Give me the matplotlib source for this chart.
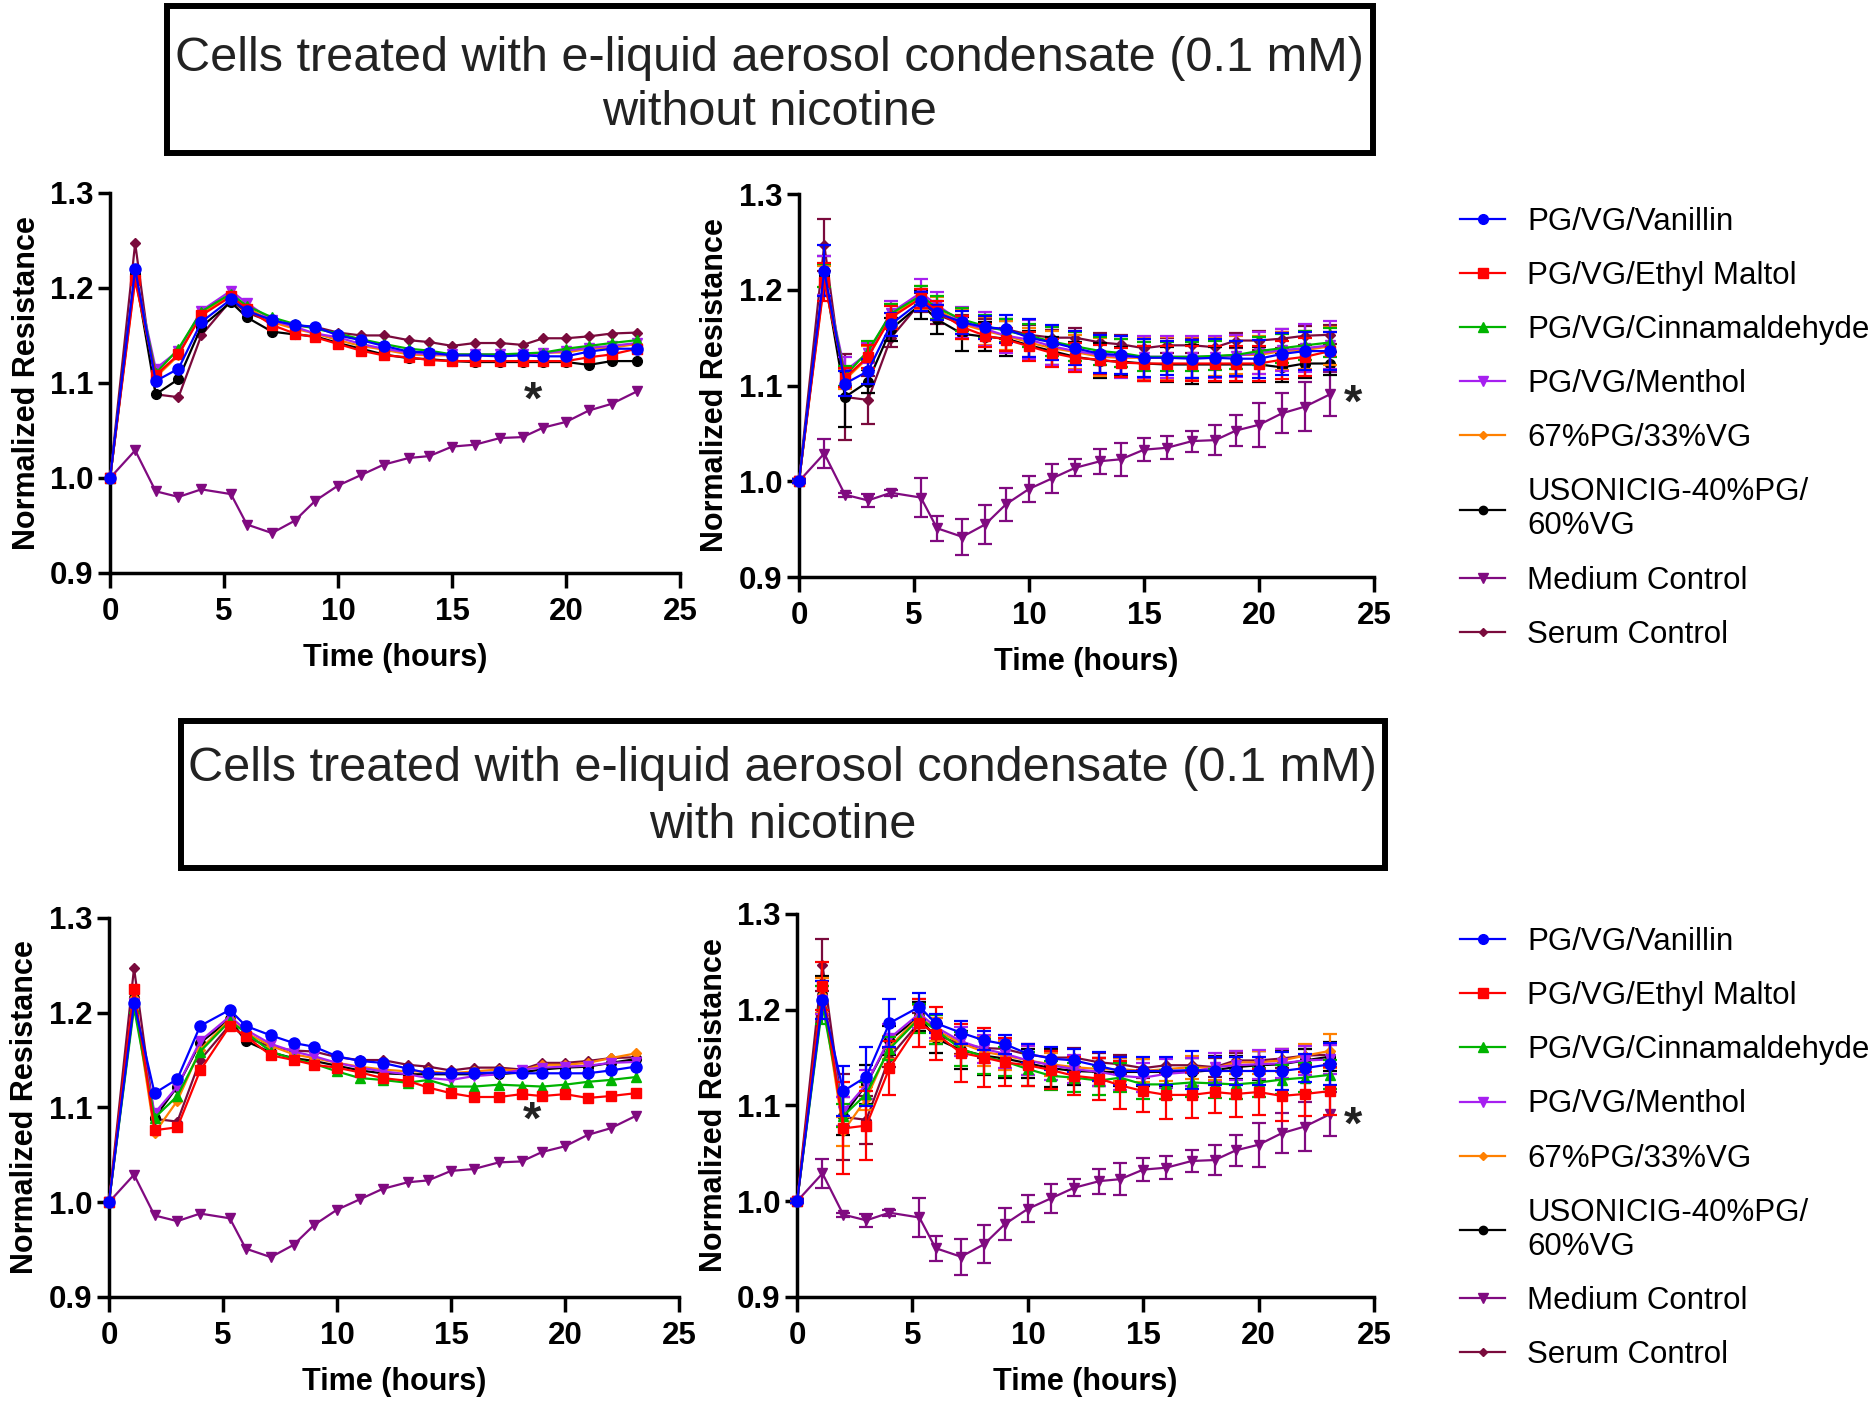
import numpy as np
import matplotlib
matplotlib.use("Agg")
import matplotlib.pyplot as plt
from matplotlib.patches import Rectangle
from matplotlib.lines import Line2D


# ======================
# 0) Data
# ======================

hours = [0, 1.1, 2, 3, 4, 5.3, 6, 7.1, 8.1, 9, 10, 11, 12, 13.1, 14, 15, 16,
         17.1, 18.1, 19, 20, 21, 22, 23.1]

labels = ["PG/VG/Vanillin", "PG/VG/Ethyl Maltol", "PG/VG/Cinnamaldehyde",
          "PG/VG/Menthol", "67%PG/33%VG", "USONICIG-40%PG/\n60%VG",
          "Medium Control", "Serum Control"]

# without nicotine (means)
van_no = [1.000, 1.220, 1.102, 1.115, 1.164, 1.188, 1.176, 1.166, 1.161, 1.159, 1.150, 1.145,
          1.139, 1.133, 1.132, 1.129, 1.129, 1.128, 1.129, 1.128, 1.128, 1.133, 1.136, 1.136]
mal_no = [1.000, 1.208, 1.108, 1.130, 1.171, 1.191, 1.178, 1.161, 1.152, 1.148, 1.141, 1.134,
          1.129, 1.127, 1.124, 1.123, 1.123, 1.123, 1.123, 1.123, 1.123, 1.127, 1.130, 1.136]
cin_no = [1.000, 1.215, 1.110, 1.136, 1.175, 1.194, 1.181, 1.169, 1.162, 1.157, 1.152, 1.146,
          1.141, 1.136, 1.134, 1.130, 1.130, 1.130, 1.131, 1.132, 1.136, 1.139, 1.142, 1.145]
men_no = [1.000, 1.215, 1.115, 1.134, 1.176, 1.197, 1.184, 1.166, 1.159, 1.152, 1.148, 1.141,
          1.136, 1.132, 1.130, 1.130, 1.130, 1.130, 1.130, 1.131, 1.134, 1.137, 1.139, 1.142]
pg67_no = [1.000, 1.210, 1.106, 1.129, 1.173, 1.192, 1.180, 1.164, 1.157, 1.152, 1.145, 1.139,
           1.135, 1.130, 1.129, 1.129, 1.129, 1.129, 1.130, 1.132, 1.132, 1.136, 1.137, 1.141]
uso_no = [1.000, 1.215, 1.088, 1.104, 1.159, 1.185, 1.169, 1.154, 1.151, 1.149, 1.142, 1.136,
          1.130, 1.126, 1.125, 1.123, 1.122, 1.122, 1.122, 1.122, 1.122, 1.119, 1.123, 1.123]

# with nicotine (means)
van_nic = [1.000, 1.210, 1.115, 1.130, 1.186, 1.203, 1.186, 1.176, 1.168, 1.164, 1.154, 1.149,
           1.147, 1.141, 1.136, 1.136, 1.136, 1.137, 1.136, 1.136, 1.136, 1.136, 1.139, 1.143]
mal_nic = [1.000, 1.225, 1.076, 1.079, 1.139, 1.186, 1.175, 1.155, 1.150, 1.145, 1.142, 1.137,
           1.131, 1.128, 1.121, 1.115, 1.111, 1.111, 1.114, 1.112, 1.114, 1.110, 1.112, 1.115]
cin_nic = [1.000, 1.205, 1.089, 1.112, 1.159, 1.191, 1.179, 1.159, 1.151, 1.146, 1.138, 1.131,
           1.129, 1.126, 1.129, 1.122, 1.122, 1.124, 1.123, 1.122, 1.124, 1.127, 1.129, 1.132]
men_nic = [1.000, 1.210, 1.094, 1.122, 1.170, 1.196, 1.182, 1.167, 1.159, 1.154, 1.147, 1.142,
           1.138, 1.135, 1.131, 1.129, 1.133, 1.135, 1.140, 1.142, 1.143, 1.144, 1.147, 1.148]
pg67_nic = [1.000, 1.215, 1.073, 1.107, 1.161, 1.193, 1.179, 1.165, 1.156, 1.152, 1.147, 1.143,
            1.140, 1.138, 1.138, 1.136, 1.138, 1.140, 1.139, 1.145, 1.145, 1.147, 1.152, 1.157]
uso_nic = [1.000, 1.215, 1.089, 1.122, 1.168, 1.193, 1.170, 1.158, 1.152, 1.149, 1.144, 1.139,
           1.136, 1.135, 1.135, 1.135, 1.135, 1.135, 1.137, 1.140, 1.142, 1.143, 1.147, 1.151]

# controls (same in both experiments)
medium = [1.000, 1.029, 0.986, 0.980, 0.988, 0.983, 0.951, 0.942, 0.955, 0.976, 0.992, 1.003,
          1.014, 1.021, 1.023, 1.033, 1.035, 1.042, 1.043, 1.053, 1.059, 1.071, 1.078, 1.091]
serum = [1.000, 1.247, 1.088, 1.085, 1.150, 1.187, 1.174, 1.164, 1.160, 1.159, 1.153, 1.150,
         1.150, 1.145, 1.143, 1.139, 1.142, 1.142, 1.140, 1.147, 1.147, 1.149, 1.152, 1.153]

# error bars, without nicotine
van_no_err = [0.002, 0.027, 0.013, 0.013, 0.012, 0.010, 0.008, 0.012, 0.012, 0.015, 0.020, 0.018,
              0.018, 0.020, 0.020, 0.020, 0.018, 0.020, 0.020, 0.018, 0.020, 0.022, 0.020, 0.020]
mal_no_err = [0.002, 0.020, 0.010, 0.012, 0.012, 0.010, 0.010, 0.012, 0.012, 0.012, 0.015, 0.015,
              0.015, 0.015, 0.015, 0.018, 0.018, 0.018, 0.018, 0.018, 0.018, 0.020, 0.020, 0.020]
cin_no_err = [0.002, 0.012, 0.010, 0.010, 0.010, 0.010, 0.012, 0.012, 0.012, 0.012, 0.012, 0.015,
              0.015, 0.015, 0.015, 0.015, 0.015, 0.015, 0.015, 0.015, 0.015, 0.015, 0.015, 0.015]
men_no_err = [0.002, 0.020, 0.015, 0.010, 0.012, 0.014, 0.014, 0.016, 0.018, 0.018, 0.020, 0.020,
              0.020, 0.020, 0.022, 0.022, 0.022, 0.022, 0.022, 0.022, 0.022, 0.022, 0.025, 0.025]
pg67_no_err = [0.002, 0.015, 0.010, 0.012, 0.012, 0.012, 0.012, 0.015, 0.015, 0.015, 0.015, 0.018,
               0.018, 0.020, 0.020, 0.022, 0.022, 0.022, 0.020, 0.020, 0.020, 0.020, 0.020, 0.020]
uso_no_err = [0.002, 0.020, 0.031, 0.012, 0.012, 0.015, 0.015, 0.018, 0.015, 0.018, 0.015, 0.015,
              0.015, 0.018, 0.015, 0.018, 0.018, 0.020, 0.018, 0.018, 0.018, 0.015, 0.015, 0.012]

# error bars, with nicotine
van_nic_err = [0.002, 0.020, 0.026, 0.031, 0.025, 0.014, 0.010, 0.012, 0.010, 0.010, 0.010, 0.012,
               0.012, 0.015, 0.015, 0.015, 0.015, 0.020, 0.015, 0.015, 0.015, 0.020, 0.015, 0.022]
mal_nic_err = [0.002, 0.025, 0.048, 0.036, 0.028, 0.025, 0.028, 0.030, 0.031, 0.025, 0.022, 0.020,
               0.020, 0.022, 0.025, 0.022, 0.025, 0.024, 0.022, 0.024, 0.024, 0.026, 0.023, 0.025]
cin_nic_err = [0.002, 0.020, 0.012, 0.012, 0.012, 0.015, 0.015, 0.018, 0.018, 0.015, 0.018, 0.015,
               0.015, 0.015, 0.015, 0.015, 0.015, 0.015, 0.015, 0.015, 0.015, 0.015, 0.015, 0.015]
men_nic_err = [0.002, 0.015, 0.015, 0.015, 0.015, 0.015, 0.012, 0.015, 0.015, 0.015, 0.015, 0.015,
               0.015, 0.015, 0.015, 0.015, 0.015, 0.015, 0.015, 0.015, 0.015, 0.015, 0.015, 0.015]
pg67_nic_err = [0.002, 0.018, 0.015, 0.012, 0.012, 0.012, 0.012, 0.012, 0.015, 0.015, 0.015, 0.012,
                0.012, 0.012, 0.012, 0.012, 0.012, 0.012, 0.012, 0.012, 0.012, 0.012, 0.012, 0.018]
uso_nic_err = [0.002, 0.020, 0.020, 0.020, 0.015, 0.015, 0.015, 0.020, 0.020, 0.020, 0.015, 0.020,
               0.015, 0.015, 0.015, 0.015, 0.015, 0.015, 0.015, 0.012, 0.015, 0.015, 0.012, 0.015]

medium_err = [0.001, 0.015, 0.002, 0.007, 0.003, 0.020, 0.013, 0.019, 0.020, 0.017, 0.014, 0.015,
              0.009, 0.013, 0.017, 0.012, 0.012, 0.011, 0.016, 0.016, 0.023, 0.021, 0.026, 0.023]
serum_err = [0.002, 0.027, 0.045, 0.025, 0.010, 0.010, 0.010, 0.010, 0.010, 0.010, 0.010, 0.008,
             0.010, 0.010, 0.010, 0.010, 0.008, 0.008, 0.010, 0.008, 0.010, 0.010, 0.010, 0.010]


# ======================
# 1) Styles
# ======================

colors = ["#0000FF", "#FF0000", "#00B400", "#A61FF0", "#FF8000", "#000000", "#800A80", "#7A0A3C"]
markers = ["o", "s", "^", "v", "D", "o", "v", "D"]
msizes = [8, 7.5, 7.5, 7.5, 5.5, 7, 7.5, 5.5]

plt.rcParams["font.family"] = ["Liberation Sans", "DejaVu Sans"]

fig = plt.figure(figsize=(18.72, 14.05), dpi=100)


def style_axes(ax):
    ax.set_xlim(0, 25)
    ax.set_ylim(0.9, 1.3)
    ax.set_xticks([0, 5, 10, 15, 20, 25])
    ax.set_yticks([0.9, 1.0, 1.1, 1.2, 1.3])
    ax.set_yticklabels(["0.9", "1.0", "1.1", "1.2", "1.3"])
    for s in ["top", "right"]:
        ax.spines[s].set_visible(False)
    for s in ["left", "bottom"]:
        ax.spines[s].set_linewidth(2.5)
    ax.tick_params(axis="both", width=2.5, labelsize=22.5, direction="out")
    ax.tick_params(axis="y", length=9, pad=3)
    ax.tick_params(axis="x", length=11, pad=6)
    for lab in ax.get_xticklabels() + ax.get_yticklabels():
        lab.set_fontweight("bold")
    ax.set_xlabel("Time (hours)", fontsize=22, fontweight="bold", labelpad=12)
    ax.set_ylabel("Normalized Resistance", fontsize=22, fontweight="bold", labelpad=6)


def draw_panel(ax, series, errs, star_x, star_y):
    # first dataset ends up on top
    for i in reversed(range(len(series))):
        y = series[i]
        if errs is None:
            ax.plot(hours, y, color=colors[i], marker=markers[i], ms=msizes[i],
                    lw=1.6, clip_on=False, zorder=3 + (8 - i) * 0.1)
        else:
            ax.errorbar(hours, y, yerr=errs[i], color=colors[i], marker=markers[i],
                        ms=msizes[i], lw=1.6, elinewidth=1.6, capsize=5, capthick=1.6,
                        clip_on=False, zorder=3 + (8 - i) * 0.1)
    ax.text(star_x, star_y, "*", fontsize=34, fontweight="bold", color="#222222",
            ha="center", va="center")
    style_axes(ax)


no_nic = [van_no, mal_no, cin_no, men_no, pg67_no, uso_no, medium, serum]
no_nic_err = [van_no_err, mal_no_err, cin_no_err, men_no_err, pg67_no_err, uso_no_err,
              medium_err, serum_err]
nic = [van_nic, mal_nic, cin_nic, men_nic, pg67_nic, uso_nic, medium, serum]
nic_err = [van_nic_err, mal_nic_err, cin_nic_err, men_nic_err, pg67_nic_err, uso_nic_err,
           medium_err, serum_err]


# ======================
# 2) Panels
# ======================

ax_tl = fig.add_axes([0.0588, 0.5922, 0.3045, 0.2705])
ax_tr = fig.add_axes([0.4268, 0.5893, 0.3072, 0.2726])
ax_bl = fig.add_axes([0.0582, 0.0769, 0.3045, 0.2698])
ax_br = fig.add_axes([0.4258, 0.0769, 0.3082, 0.2726])

draw_panel(ax_tl, no_nic, None, 18.55, 1.08)
draw_panel(ax_tr, no_nic, no_nic_err, 24.1, 1.08)
draw_panel(ax_bl, nic, None, 18.55, 1.085)
draw_panel(ax_br, nic, nic_err, 24.1, 1.078)


# ======================
# 3) Title boxes
# ======================

fig.patches.append(Rectangle((0.0892, 0.891), 0.6443, 0.1047, transform=fig.transFigure,
                             fill=False, lw=4.3, edgecolor="black"))
fig.text(0.411, 0.939, "Cells treated with e-liquid aerosol condensate (0.1 mM)\nwithout nicotine",
         ha="center", va="center", fontsize=35, linespacing=1.27, color="#222222")

fig.patches.append(Rectangle((0.0967, 0.3822), 0.6433, 0.1046, transform=fig.transFigure,
                             fill=False, lw=4.3, edgecolor="black"))
fig.text(0.418, 0.4325, "Cells treated with e-liquid aerosol condensate (0.1 mM)\nwith nicotine",
         ha="center", va="center", fontsize=35, linespacing=1.35, color="#222222")


# ======================
# 4) Legends
# ======================

handles = [Line2D([], [], color=colors[i], marker=markers[i], ms=msizes[i] - 1, lw=1.6)
           for i in range(len(labels))]

for top in [0.853, 0.340]:
    fig.legend(handles, labels, loc="upper left", bbox_to_anchor=(0.780, top),
               frameon=False, fontsize=22.5, handlelength=1.45, handletextpad=0.7,
               labelspacing=0.77, borderpad=0, borderaxespad=0)

plt.savefig("out.png", dpi=100)
